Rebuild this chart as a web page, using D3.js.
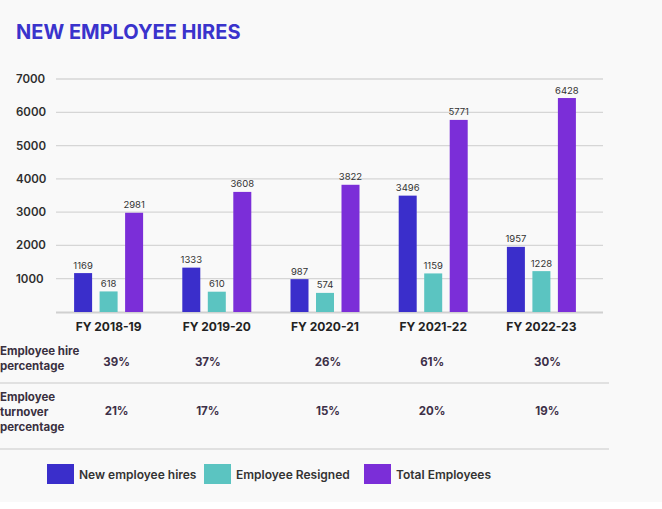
<!DOCTYPE html>
<html><head><meta charset="utf-8">
<script src="https://cdn.jsdelivr.net/npm/d3@7"></script>
<style>
html,body{margin:0;padding:0;background:#fff;}
svg{display:block;}
text{font-family:Inter, "Open Sans", sans-serif;}
</style></head>
<body>
<script>
const categories = ["FY 2018-19","FY 2019-20","FY 2020-21","FY 2021-22","FY 2022-23"];
const seriesNames = ["New employee hires","Employee Resigned","Total Employees"];
const newHires = [1169,1333,987,3496,1957];
const resigned = [618,610,574,1159,1228];
const totalEmployees = [2981,3608,3822,5771,6428];
const hirePct = ["39%","37%","26%","61%","30%"];
const turnoverPct = ["21%","17%","15%","20%","19%"];
const yTicks = [1000,2000,3000,4000,5000,6000,7000];
const colors = ["#3a2ecb","#5bc4c1","#7b2ed8"];

const W=662,H=509;
const svg=d3.select("body").append("svg").attr("width",W).attr("height",H);
svg.append("rect").attr("width",W).attr("height",502).attr("fill","#f9f9f9");

svg.append("text").attr("x",16).attr("y",39).attr("font-size",20).attr("font-weight",700)
  .attr("fill","#3a33cc").text("NEW EMPLOYEE HIRES");

const x=d3.scaleBand().domain(categories).range([54.5,595.5]).paddingInner(0).paddingOuter(0);
const y=d3.scaleLinear().domain([0,7000]).range([312,79]);
const series=[newHires,resigned,totalEmployees];
const bw=18, step=25.5;

// gridlines
svg.append("g").selectAll("line").data(yTicks).join("line")
  .attr("x1",56).attr("x2",603).attr("y1",d=>y(d)).attr("y2",d=>y(d))
  .attr("stroke","#d6d6d6").attr("stroke-width",1.3);
svg.append("line").attr("x1",56).attr("x2",603).attr("y1",y(0)+0.5).attr("y2",y(0)+0.5)
  .attr("stroke","#d0d0d0").attr("stroke-width",2);
svg.append("g").selectAll("text").data(yTicks).join("text")
  .attr("x",16).attr("y",d=>y(d)+4).attr("font-size",11.5).attr("font-weight",600)
  .attr("fill","#2e2e2e").text(d=>d);

// bars
categories.forEach((c,i)=>{
  series.forEach((s,j)=>{
    const cx=x(c)+x.bandwidth()/2+(j-1)*step;
    svg.append("rect").attr("x",cx-bw/2).attr("y",y(s[i])).attr("width",bw)
      .attr("height",y(0)-y(s[i])).attr("fill",colors[j]);
    svg.append("text").attr("x",cx).attr("y",y(s[i])-4.5).attr("text-anchor","middle")
      .attr("font-size",9.5).attr("fill","#333").text(s[i]);
  });
  svg.append("text").attr("x",x(c)+x.bandwidth()/2).attr("y",331).attr("text-anchor","middle")
    .attr("font-size",12).attr("font-weight",700).attr("fill","#222").text(c);
});

// table
const lab1=["Employee hire","percentage"], lab2=["Employee","turnover","percentage"];
lab1.forEach((t,k)=>svg.append("text").attr("x",0).attr("y",355+k*15).attr("font-size",11.5)
  .attr("font-weight",700).attr("fill","#3a3040").text(t));
lab2.forEach((t,k)=>svg.append("text").attr("x",0).attr("y",401+k*15).attr("font-size",11.5)
  .attr("font-weight",700).attr("fill","#3a3040").text(t));
const offs=[8,-9,3,-1,6];
categories.forEach((c,i)=>{
  const cx=x(c)+x.bandwidth()/2+offs[i];
  svg.append("text").attr("x",cx).attr("y",366).attr("text-anchor","middle").attr("font-size",11.5)
    .attr("font-weight",700).attr("fill","#3d3048").text(hirePct[i]);
  svg.append("text").attr("x",cx).attr("y",415).attr("text-anchor","middle").attr("font-size",11.5)
    .attr("font-weight",700).attr("fill","#3d3048").text(turnoverPct[i]);
});
[383,449].forEach(yy=>svg.append("line").attr("x1",0).attr("x2",609).attr("y1",yy).attr("y2",yy)
  .attr("stroke","#d8d8d8").attr("stroke-width",1.5));

// legend
const lx=[47,204,364];
seriesNames.forEach((n,j)=>{
  svg.append("rect").attr("x",lx[j]).attr("y",464).attr("width",27).attr("height",20).attr("fill",colors[j]);
  svg.append("text").attr("x",lx[j]+32).attr("y",479).attr("font-size",12).attr("font-weight",600)
    .attr("fill","#333").text(n);
});
</script>
</body></html>
